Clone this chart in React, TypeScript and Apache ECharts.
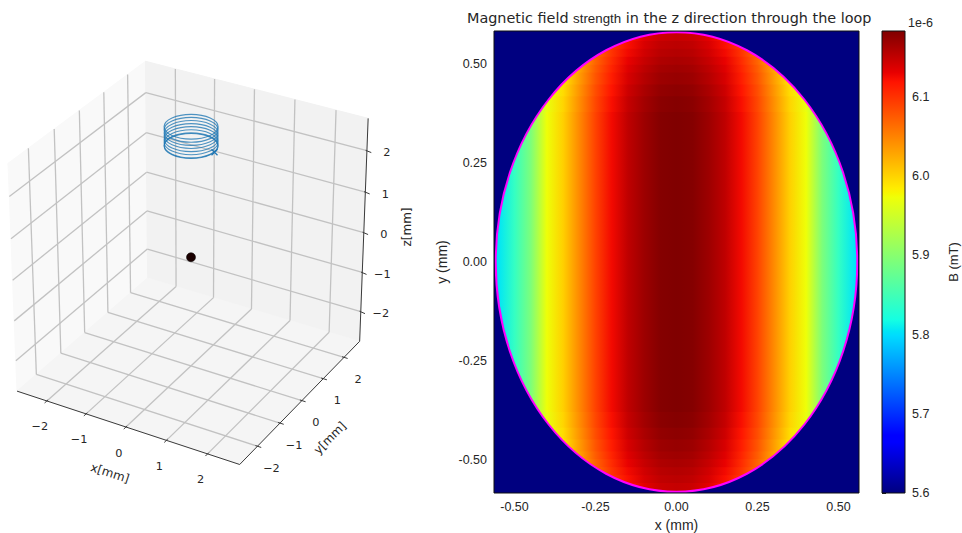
import React, { useEffect, useRef } from "react";
import * as echarts from "echarts";

// ---------- 3D axes ----------
const axisLimit = 2.77;
const tickValues3d = [-2, -1, 0, 1, 2];
const coilCenter = [-0.575, 1.0];
const coilRadius = 0.58;
const coilTurnsZ = [2.5, 2.426, 2.352, 2.278, 2.204, 2.13, 2.056, 2.04];
const coilStart = [0.005, 1.0, 2.04];
const sourcePoint = [0, 0, -0.03];

// ---------- field map ----------
const loopCenter = [0, 0];
const loopRadiusX = 0.558;
const loopRadiusY = 0.581;
const mapLimitX = 0.5633;
const mapLimitY = 0.584;
const mapTicks = [-0.5, -0.25, 0, 0.25, 0.5];
const fieldMin = 5.6;
const fieldMax = 6.183;
const barTicks = [5.6, 5.7, 5.8, 5.9, 6.0, 6.1];
const xSamples = [0, 0.05, 0.1, 0.15, 0.2, 0.25, 0.3, 0.35, 0.4, 0.45, 0.5, 0.55, 0.5633];
const bandEdges = [0, 0.38, 0.42, 0.45, 0.48, 0.5, 0.52, 0.54, 0.56, 0.59];
const fieldBand0 = [6.183, 6.18, 6.168, 6.151, 6.125, 6.09, 6.046, 6.002, 5.973, 5.892, 5.841, 5.804, 5.79];
const fieldBand1 = [6.18, 6.177, 6.165, 6.148, 6.122, 6.087, 6.043, 5.999, 5.97, 5.889, 5.838, 5.801, 5.787];
const fieldBand2 = [6.176, 6.173, 6.161, 6.144, 6.118, 6.083, 6.039, 5.995, 5.966, 5.885, 5.834, 5.797, 5.783];
const fieldBand3 = [6.171, 6.168, 6.156, 6.139, 6.113, 6.078, 6.034, 5.99, 5.961, 5.88, 5.829, 5.792, 5.778];
const fieldBand4 = [6.167, 6.164, 6.152, 6.135, 6.109, 6.074, 6.03, 5.986, 5.957, 5.876, 5.825, 5.788, 5.774];
const fieldBand5 = [6.162, 6.159, 6.147, 6.13, 6.104, 6.069, 6.025, 5.981, 5.952, 5.871, 5.82, 5.783, 5.769];
const fieldBand6 = [6.157, 6.154, 6.142, 6.125, 6.099, 6.064, 6.02, 5.976, 5.947, 5.866, 5.815, 5.778, 5.764];
const fieldBand7 = [6.153, 6.15, 6.138, 6.121, 6.095, 6.06, 6.016, 5.972, 5.943, 5.862, 5.811, 5.774, 5.76];
const fieldBand8 = [6.148, 6.145, 6.133, 6.116, 6.09, 6.055, 6.011, 5.967, 5.938, 5.857, 5.806, 5.769, 5.755];
const fieldBands = [fieldBand0, fieldBand1, fieldBand2, fieldBand3, fieldBand4, fieldBand5, fieldBand6, fieldBand7, fieldBand8];

// ---------- colours ----------
const jetR = [[0, 0], [0.35, 0], [0.66, 1], [0.89, 1], [1, 0.5]];
const jetG = [[0, 0], [0.125, 0], [0.375, 1], [0.64, 1], [0.91, 0], [1, 0]];
const jetB = [[0, 0.5], [0.11, 1], [0.34, 1], [0.65, 0], [1, 0]];
const jetKnots = [0, 0.11, 0.125, 0.34, 0.35, 0.375, 0.64, 0.65, 0.66, 0.89, 0.91, 1];

function channel(knots: number[][], t: number) {
  for (let i = 1; i < knots.length; i++) {
    if (t <= knots[i][0]) {
      const a = knots[i - 1];
      const b = knots[i];
      return a[1] + ((b[1] - a[1]) * (t - a[0])) / (b[0] - a[0]);
    }
  }
  return knots[knots.length - 1][1];
}
function jet(t: number) {
  const c = Math.max(0, Math.min(1, t));
  const v = (k: number[][]) => Math.round(channel(k, c) * 255);
  return `rgb(${v(jetR)},${v(jetG)},${v(jetB)})`;
}
const fieldColor = (b: number) => jet((b - fieldMin) / (fieldMax - fieldMin));

// mplot3d projection (elev 30, azim -60, dist 10)
function project(x: number, y: number, z: number): number[] {
  const w = 2 * axisLimit;
  const px = x / w, py = y / w, pz = z / w;
  const u = 0.866 * px + 0.5 * py;
  const v = -0.25 * px + 0.433 * py + 0.866 * pz;
  const d = 0.433 * px - 0.75 * py + 0.5 * pz;
  const s = 1 / (10 - d);
  return [191 + 2570 * u * s, 256 - 2600 * v * s];
}

const L = axisLimit;
const paneLeft = [[-L, -L, -L], [-L, L, -L], [-L, L, L], [-L, -L, L]];
const paneBack = [[-L, L, -L], [L, L, -L], [L, L, L], [-L, L, L]];
const paneFloor = [[-L, -L, -L], [L, -L, -L], [L, L, -L], [-L, L, -L]];
const paneFills = ["#f9f9f9", "#f2f2f2", "#f5f5f5"];

function seg(a: number[], b: number[]) {
  const p = project(a[0], a[1], a[2]);
  const q = project(b[0], b[1], b[2]);
  return [p[0], p[1], q[0], q[1]];
}

const gridSegments: number[][] = [];
tickValues3d.forEach((t) => {
  gridSegments.push(seg([t, -L, -L], [t, L, -L]), seg([t, L, -L], [t, L, L]));
  gridSegments.push(seg([L, t, -L], [-L, t, -L]), seg([-L, t, -L], [-L, t, L]));
  gridSegments.push(seg([L, L, t], [-L, L, t]), seg([-L, L, t], [-L, -L, t]));
});
const axisSegments: number[][] = [
  seg([-L, -L, -L], [L, -L, -L]),
  seg([L, -L, -L], [L, L, -L]),
  seg([L, L, -L], [L, L, L]),
];
tickValues3d.forEach((t) => {
  axisSegments.push(seg([t, -L - 0.09, -L], [t, -L + 0.05, -L]));
  axisSegments.push(seg([L + 0.09, t, -L], [L - 0.05, t, -L]));
  axisSegments.push(seg([L - 0.03, L, t], [L + 0.12, L - 0.03, t]));
});

type Lab = [number, number, string, number, number];
const minus = (t: number) => (t < 0 ? "\u2212" + Math.abs(t) : String(t));
const tickLabels3d: Lab[] = [];
tickValues3d.forEach((t) => {
  const a = project(t, -L, -L);
  tickLabels3d.push([a[0] - 7, a[1] + 26, minus(t), 0, 11.3]);
  const b = project(L, t, -L);
  tickLabels3d.push([b[0] + 14, b[1] + 22, minus(t), 0, 11.3]);
  const c = project(L, L, t);
  tickLabels3d.push([c[0] + 20, c[1] + 2, minus(t), 0, 11.3]);
});
const axisTitles3d: Lab[] = [
  [110, 473, "x[mm]", -18, 12],
  [330, 438, "y[mm]", 45, 12],
  [407, 227, "z[mm]", 90, 12],
];

const coilRings = coilTurnsZ.map((z) => {
  const c = project(coilCenter[0], coilCenter[1], z);
  const e = project(coilCenter[0] + 0.866 * coilRadius, coilCenter[1] + 0.5 * coilRadius, z);
  const n = project(coilCenter[0] - 0.5 * coilRadius, coilCenter[1] + 0.866 * coilRadius, z);
  return [c[0], c[1], Math.abs(e[0] - c[0]), Math.abs(n[1] - c[1])];
});

// field map helpers
const stopsFor = (band: number[]) => {
  const xs = xSamples.map((x, i) => ({ x, b: band[i] }));
  const all = [...xs.slice(1).reverse().map((p) => ({ x: -p.x, b: p.b })), ...xs];
  return all.map((p) => ({
    offset: (p.x + mapLimitX) / (2 * mapLimitX),
    color: fieldColor(p.b),
  }));
};
const bandItems: number[][] = [];
fieldBands.forEach((_, i) => {
  bandItems.push([i, 1], [i, -1]);
});
const barStops = jetKnots.map((t) => ({ offset: 1 - t, color: jet(t) })).reverse();

const FONT_3D = "DejaVu Sans";
const FONT_2D = "Liberation Sans";
const TEXT = "#262626";

function makeOption(): any {
  const segRender = (color: string, width: number) => (_: any, api: any) => {
    const p = api.coord([api.value(0), api.value(1)]);
    const q = api.coord([api.value(2), api.value(3)]);
    return {
      type: "line",
      shape: { x1: p[0], y1: p[1], x2: q[0], y2: q[1] },
      style: { stroke: color, lineWidth: width, fill: null },
    };
  };
  const onLeft = { coordinateSystem: "cartesian2d", xAxisIndex: 0, yAxisIndex: 0, silent: true, clip: false };
  const onMap = { coordinateSystem: "cartesian2d", xAxisIndex: 1, yAxisIndex: 1, silent: true, clip: false };
  const onBar = { coordinateSystem: "cartesian2d", xAxisIndex: 2, yAxisIndex: 2, silent: true, clip: false };
  const tick2d = { show: true, length: 4, lineStyle: { color: "#222", width: 1 } };
  const label2d = { color: TEXT, fontFamily: FONT_2D, fontSize: 12.5 };
  const name2d = { color: TEXT, fontFamily: FONT_2D, fontSize: 14 };

  return {
    animation: false,
    backgroundColor: "#ffffff",
    title: {
      text: "{a|Magnetic field }{b|strength}{a| in the z direction through the loop}",
      left: 467,
      top: 11,
      padding: 0,
      textStyle: {
        fontWeight: "normal",
        rich: {
          a: { fontFamily: FONT_3D, fontSize: 14.4, color: TEXT, fontWeight: "normal" },
          b: { fontFamily: FONT_2D, fontSize: 13.3, color: TEXT, fontWeight: "normal" },
        },
      },
    },
    grid: [
      { left: 0, top: 0, width: 440, height: 533, outerBoundsMode: "none" },
      { left: 494, top: 31, width: 365, height: 462, outerBoundsMode: "none" },
      { left: 882, top: 31, width: 23, height: 462, outerBoundsMode: "none" },
    ],
    xAxis: [
      { gridIndex: 0, type: "value", min: 0, max: 440, show: false },
      {
        gridIndex: 1,
        type: "value",
        min: -mapLimitX,
        max: mapLimitX,
        name: "x (mm)",
        nameLocation: "middle",
        nameGap: 24,
        nameTextStyle: { ...name2d },
        splitLine: { show: false },
        axisLine: { show: false },
        axisTick: { ...tick2d, customValues: mapTicks },
        axisLabel: { ...label2d, margin: 7, customValues: mapTicks, formatter: (v: number) => v.toFixed(2) },
      },
      { gridIndex: 2, type: "value", min: 0, max: 1, show: false },
    ],
    yAxis: [
      { gridIndex: 0, type: "value", min: 0, max: 533, inverse: true, show: false },
      {
        gridIndex: 1,
        type: "value",
        min: -mapLimitY,
        max: mapLimitY,
        name: "y (mm)",
        nameLocation: "middle",
        nameGap: 45,
        nameRotate: 90,
        nameTextStyle: { ...name2d },
        splitLine: { show: false },
        axisLine: { show: false },
        axisTick: { ...tick2d, customValues: mapTicks },
        axisLabel: { ...label2d, margin: 7, customValues: mapTicks, formatter: (v: number) => v.toFixed(2) },
      },
      {
        gridIndex: 2,
        type: "value",
        position: "right",
        min: fieldMin,
        max: fieldMax,
        name: "B (mT)",
        nameLocation: "middle",
        nameGap: 42,
        nameRotate: 90,
        nameTextStyle: { ...label2d, fontSize: 13 },
        splitLine: { show: false },
        axisLine: { show: false },
        axisTick: { ...tick2d, customValues: barTicks },
        axisLabel: { ...label2d, margin: 7, customValues: barTicks, formatter: (v: number) => v.toFixed(1) },
      },
    ],
    graphic: [
      {
        type: "text",
        x: 908,
        y: 16,
        style: { text: "1e-6", fill: TEXT, font: `12.5px "${FONT_2D}"` },
      },
    ],
    series: [
      // panes
      {
        ...onLeft,
        type: "custom",
        data: [[0], [1], [2]],
        renderItem: (_: any, api: any) => {
          const i = api.value(0);
          const pane = [paneLeft, paneBack, paneFloor][i];
          const pts = pane.map((p) => {
            const s = project(p[0], p[1], p[2]);
            return api.coord([s[0], s[1]]);
          });
          return { type: "polygon", shape: { points: pts }, style: { fill: paneFills[i], stroke: paneFills[i], lineWidth: 1 } };
        },
      },
      { ...onLeft, type: "custom", data: gridSegments, renderItem: segRender("#c2c2c2", 1.3) },
      { ...onLeft, type: "custom", data: axisSegments, renderItem: segRender("#3a3a3a", 1) },
      // coil
      {
        ...onLeft,
        type: "custom",
        data: coilRings,
        renderItem: (_: any, api: any) => {
          const c = api.coord([api.value(0), api.value(1)]);
          return {
            type: "ellipse",
            shape: { cx: c[0], cy: c[1], rx: api.value(2), ry: api.value(3) },
            style: { fill: null, stroke: "#1f77b4", lineWidth: 1.15, opacity: 0.78 },
          };
        },
      },
      {
        ...onLeft,
        type: "scatter",
        data: [project(coilStart[0], coilStart[1], coilStart[2])],
        symbol: "path://M0 0L10 10M10 0L0 10",
        symbolSize: 6,
        itemStyle: { color: "none", borderColor: "#1f77b4", borderWidth: 1.3, opacity: 1 },
      },
      {
        ...onLeft,
        type: "scatter",
        data: [project(sourcePoint[0], sourcePoint[1], sourcePoint[2])],
        symbol: "circle",
        symbolSize: 9,
        itemStyle: { color: "#1a0000", borderColor: "#000", borderWidth: 0.5, opacity: 1 },
      },
      // 3D texts
      {
        ...onLeft,
        type: "custom",
        data: [...tickLabels3d, ...axisTitles3d],
        renderItem: (_: any, api: any) => {
          const c = api.coord([api.value(0), api.value(1)]);
          return {
            type: "text",
            x: c[0],
            y: c[1],
            rotation: (api.value(3) * Math.PI) / 180,
            style: {
              text: String(api.value(2)),
              fill: TEXT,
              font: `${api.value(4)}px "${FONT_3D}"`,
              align: "center",
              verticalAlign: "middle",
            },
          };
        },
        dimensions: ["x", "y", { name: "t", type: "ordinal" }, "r", "s"],
      },
      // map background
      {
        ...onMap,
        type: "custom",
        data: [[-mapLimitX, mapLimitY, mapLimitX, -mapLimitY]],
        renderItem: (_: any, api: any) => {
          const p = api.coord([api.value(0), api.value(1)]);
          const q = api.coord([api.value(2), api.value(3)]);
          return { type: "rect", shape: { x: p[0], y: p[1], width: q[0] - p[0], height: q[1] - p[1] }, style: { fill: fieldColor(fieldMin) } };
        },
      },
      // field bands, clipped by the loop
      {
        ...onMap,
        type: "custom",
        data: bandItems,
        renderItem: (_: any, api: any) => {
          const i = api.value(0);
          const sign = api.value(1);
          const a = api.coord([-mapLimitX, sign * bandEdges[i]]);
          const b = api.coord([mapLimitX, sign * bandEdges[i + 1]]);
          const c = api.coord(loopCenter);
          const size = api.size([loopRadiusX, loopRadiusY]);
          const top = Math.min(a[1], b[1]) - 0.4;
          const h = Math.abs(a[1] - b[1]) + 0.8;
          return {
            type: "rect",
            shape: { x: a[0], y: top, width: b[0] - a[0], height: h },
            style: {
              fill: { type: "linear", x: 0, y: 0, x2: 1, y2: 0, colorStops: stopsFor(fieldBands[i]) },
            },
            clipPath: { type: "ellipse", shape: { cx: c[0], cy: c[1], rx: size[0], ry: size[1] } },
          };
        },
      },
      // loop
      {
        ...onMap,
        type: "custom",
        data: [[loopCenter[0], loopCenter[1], loopRadiusX, loopRadiusY]],
        renderItem: (_: any, api: any) => {
          const c = api.coord([api.value(0), api.value(1)]);
          const size = api.size([api.value(2), api.value(3)]);
          return {
            type: "ellipse",
            shape: { cx: c[0], cy: c[1], rx: size[0], ry: size[1] },
            style: { fill: null, stroke: "#ff00ff", lineWidth: 2 },
          };
        },
      },
      // map frame
      {
        ...onMap,
        type: "custom",
        data: [[-mapLimitX, mapLimitY, mapLimitX, -mapLimitY]],
        renderItem: (_: any, api: any) => {
          const p = api.coord([api.value(0), api.value(1)]);
          const q = api.coord([api.value(2), api.value(3)]);
          return { type: "rect", shape: { x: p[0], y: p[1], width: q[0] - p[0], height: q[1] - p[1] }, style: { fill: null, stroke: "#111", lineWidth: 1 } };
        },
      },
      // colour bar
      {
        ...onBar,
        type: "custom",
        data: [[0, fieldMax, 1, fieldMin]],
        renderItem: (_: any, api: any) => {
          const p = api.coord([api.value(0), api.value(1)]);
          const q = api.coord([api.value(2), api.value(3)]);
          return {
            type: "rect",
            shape: { x: p[0], y: p[1], width: q[0] - p[0], height: q[1] - p[1] },
            style: {
              fill: { type: "linear", x: 0, y: 0, x2: 0, y2: 1, colorStops: barStops },
              stroke: "#111",
              lineWidth: 1,
            },
          };
        },
      },
    ],
  };
}

export default function App() {
  const ref = useRef<HTMLDivElement>(null);
  useEffect(() => {
    document.body.style.margin = "0";
    const chart = echarts.init(ref.current as HTMLDivElement, undefined, { renderer: "svg" });
    chart.setOption(makeOption());
    return () => chart.dispose();
  }, []);
  return <div ref={ref} style={{ width: 962, height: 533, position: "absolute", left: 0, top: 0 }} />;
}
